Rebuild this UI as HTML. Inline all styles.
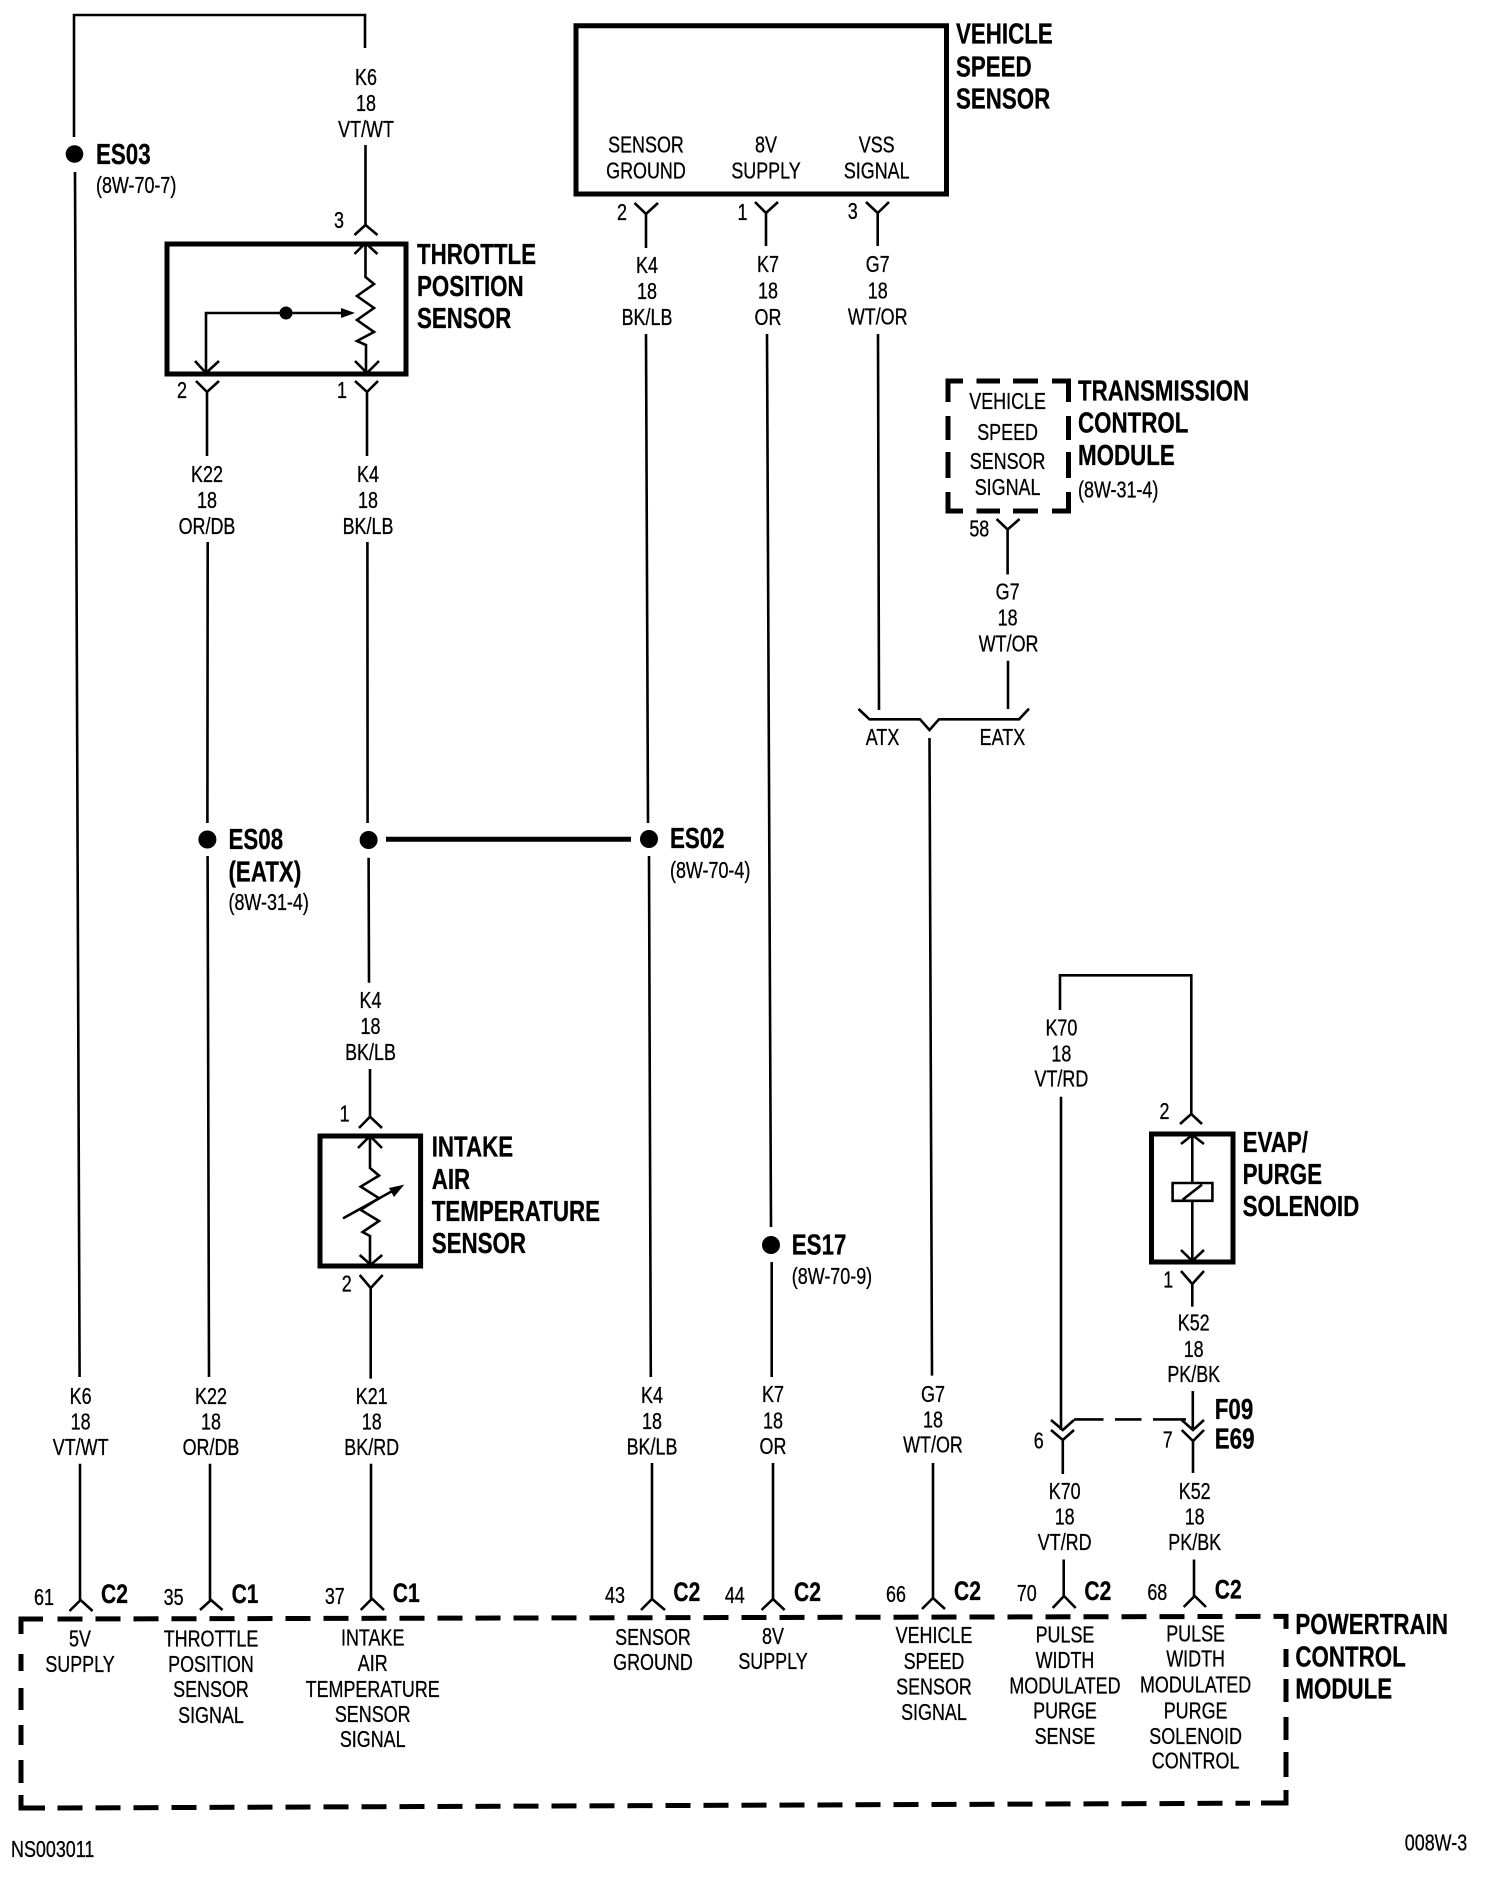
<!DOCTYPE html>
<html><head><meta charset="utf-8">
<style>
html,body{margin:0;padding:0;background:#fff}
svg{display:block}
text{font-family:"Liberation Sans",sans-serif;fill:#000;transform-box:fill-box}
.c{font-size:23px;text-anchor:middle;transform-origin:50% 50%;transform:scaleX(.78);stroke:#000;stroke-width:.3}
.l{font-size:23px;text-anchor:start;transform-origin:0 50%;transform:scaleX(.78);stroke:#000;stroke-width:.3}
.b{font-size:29px;font-weight:bold;text-anchor:start;transform-origin:0 50%;transform:scaleX(.77);stroke:#000;stroke-width:.3}
.p{font-size:27px;font-weight:bold;text-anchor:start;transform-origin:0 50%;transform:scaleX(.78);stroke:#000;stroke-width:.3}
.w path{fill:none;stroke:#000;stroke-width:2.6}
.k path{fill:none;stroke:#000;stroke-width:5}
</style></head><body>
<svg width="1504" height="1890" viewBox="0 0 1504 1890" xmlns="http://www.w3.org/2000/svg">
<rect width="1504" height="1890" fill="#fff"/>
<g class="k">
<path d="M167 244H406V374H167Z"/>
<path d="M576 25.7H946.5V194H576Z"/>
<path d="M320 1136H420.6V1266H320Z"/>
<path d="M1151.5 1134H1233V1262H1151.5Z"/>
<path d="M386 839.3H631"/>
<!-- TCM dashed -->
<path d="M963 381H948V402M976.5 381H1000M1013 381H1038M1052 381H1068.5V402M948 416V440M948 452V478M948 492V511H963M976.5 511H1000M1013 511H1038M1052 511H1068.5V492M1068.5 416V440M1068.5 452V478"/>
<!-- PCM dashed -->
<path d="M43 1619H21V1634M21 1654V1671M21 1688V1710M21 1725V1745M21 1760V1783M21 1795V1808H45"/>
<path d="M57.5 1619L1261 1616.4H1286V1629" stroke-dasharray="25 13"/>
<path d="M1286 1649V1667M1286 1679V1702M1286 1717V1740M1286 1752V1777M1286 1790V1803H1261"/>
<path d="M57.5 1808L1250 1803.2" stroke-dasharray="25 13"/>
</g>
<g class="w">
<!-- K6 top -->
<path d="M74 137V15H365V48M365.5 145V225"/>
<path d="M354.5 235L365.5 225L377.5 235"/>
<path d="M75 172L79.6 1377M80 1463.7V1600"/>
<path d="M69.5 1611L80.6 1600L92.6 1611"/>
<!-- TPS -->
<path d="M354.5 254L365.5 243L377.5 254M365.5 243V277L374 284L357 296L374 308L357 320L374 332L357 341L366 345V373"/>
<path d="M355 361L367 373L379 361"/>
<path d="M341 313H206V373"/>
<path d="M195 361L206 373L219 361"/>
<path d="M196 381L207 392L219 381M207 392V456M378 381L367 392L355 381M367 392V456"/>
<path d="M207.7 542L207.4 823M207.6 856L209 1377M210 1463.7V1600"/>
<path d="M200 1610L211 1600L222.5 1610"/>
<path d="M367.4 542L367.6 823M368.6 857.7L369 982.7M370 1069V1116.7"/>
<path d="M359 1128L370 1116.7L382 1128"/>
<!-- IAT -->
<path d="M358 1148L370 1136L382 1148M370 1136V1168L379 1175.6L360.7 1186.6L379 1198.2L360.7 1209.8L379 1221L362.6 1232L370 1236V1265"/>
<path d="M359.7 1255L370.7 1264.7L382.2 1255"/>
<path d="M343 1218.4L396 1189"/>
<path d="M359.7 1275L370.7 1288L382.7 1275M370.7 1288V1378.6M371 1463.7V1598.7"/>
<path d="M360.7 1610L372 1598.7L384 1610"/>
<!-- K4 ground -->
<path d="M634.5 203L646 214L658 203M646 214V248M646 334L648 823M649 856L650.8 1377M652 1463V1599"/>
<path d="M641 1610L652 1599L665 1610"/>
<!-- K7 -->
<path d="M755 202L766 213L778 202M766 213V246M767 334L771 1227M771.7 1262V1377M773 1463V1599"/>
<path d="M761.6 1610L773 1599L784.6 1610"/>
<!-- G7 -->
<path d="M866 202L877.7 213L889 202M877.7 213V246M878 334L879 710"/>
<path d="M996.6 519L1007.6 529.5L1019.6 519M1007.6 529.5V574.5M1008 660.7V709"/>
<path d="M858.5 709L869.5 719.3H920L929.5 730L939 719.3H1019L1029 708.7"/>
<path d="M929.5 738L932 1375.6M933 1463V1598"/>
<path d="M922 1609L933 1598L945 1609"/>
<!-- K70 -->
<path d="M1060 1010V975.3H1191.3V1114M1061 1096.7V1430"/>
<path d="M1180 1124L1191.3 1114L1202 1124"/>
<path d="M1051 1420L1062.8 1430L1074 1420M1051 1430L1062.8 1440L1074 1430M1062.8 1440V1474"/>
<path d="M1074 1419.4H1103.5M1115 1419.4H1141.5M1153 1419.4H1186"/>
<path d="M1063.7 1559.5V1596"/>
<path d="M1052.7 1608L1064 1596L1075.7 1608"/>
<!-- Evap -->
<path d="M1181 1144L1192.3 1135L1204 1144M1192.3 1135V1183M1192.3 1200.8V1261"/>
<path d="M1181 1250L1192.3 1261L1204 1250"/>
<path d="M1172.6 1183H1212.4V1200.8H1172.6ZM1182.7 1199.7L1202 1184.6"/>
<path d="M1181 1271L1192.3 1284L1204 1271M1192.3 1284V1306.6M1192.8 1391V1430"/>
<path d="M1181.7 1420L1193 1430L1204 1420M1181.7 1430L1193 1441L1204 1430M1193 1441V1473"/>
<path d="M1194 1559.5V1596"/>
<path d="M1183.7 1607L1194.7 1596L1206 1607"/>
</g>
<!-- dots and heads -->
<circle cx="74.5" cy="154" r="8.8"/>
<circle cx="286" cy="313" r="6.5"/>
<path d="M341 308L355 313L341 318Z"/>
<circle cx="207.4" cy="839.5" r="9"/>
<circle cx="368.6" cy="840" r="9"/>
<circle cx="649" cy="839" r="9"/>
<circle cx="771" cy="1245" r="9"/>
<path d="M404.3 1184.6L389 1188L394 1197Z"/>

<!-- titles -->
<text class="b" x="96" y="164">ES03</text>
<text class="l" x="96" y="193">(8W-70-7)</text>
<text class="b" x="417" y="264">THROTTLE</text>
<text class="b" x="417" y="296">POSITION</text>
<text class="b" x="417" y="328">SENSOR</text>
<text class="b" x="956" y="43.4">VEHICLE</text>
<text class="b" x="956" y="76.3">SPEED</text>
<text class="b" x="956" y="108.5">SENSOR</text>
<text class="b" x="1078" y="400.6">TRANSMISSION</text>
<text class="b" x="1078" y="432.7">CONTROL</text>
<text class="b" x="1078" y="465">MODULE</text>
<text class="l" x="1078" y="497.4">(8W-31-4)</text>
<text class="b" x="228.5" y="849">ES08</text>
<text class="b" x="228.5" y="881.6">(EATX)</text>
<text class="l" x="228.5" y="910">(8W-31-4)</text>
<text class="b" x="670" y="848">ES02</text>
<text class="l" x="670" y="878">(8W-70-4)</text>
<text class="b" x="791.8" y="1254.6">ES17</text>
<text class="l" x="791.8" y="1284">(8W-70-9)</text>
<text class="b" x="431.7" y="1156.4">INTAKE</text>
<text class="b" x="431.7" y="1189">AIR</text>
<text class="b" x="431.7" y="1221">TEMPERATURE</text>
<text class="b" x="431.7" y="1253">SENSOR</text>
<text class="b" x="1242.6" y="1152">EVAP/</text>
<text class="b" x="1242.6" y="1184">PURGE</text>
<text class="b" x="1242.6" y="1216">SOLENOID</text>
<text class="b" x="1214.8" y="1419">F09</text>
<text class="b" x="1214.8" y="1448.6">E69</text>
<text class="b" x="1295.4" y="1634">POWERTRAIN</text>
<text class="b" x="1295.4" y="1666.7">CONTROL</text>
<text class="b" x="1295.4" y="1698.5">MODULE</text>

<!-- C labels -->
<text class="p" x="101" y="1603">C2</text>
<text class="p" x="231.6" y="1603">C1</text>
<text class="p" x="392.8" y="1602">C1</text>
<text class="p" x="673.4" y="1601">C2</text>
<text class="p" x="794" y="1601">C2</text>
<text class="p" x="954" y="1600">C2</text>
<text class="p" x="1084.4" y="1600">C2</text>
<text class="p" x="1214.8" y="1598.7">C2</text>

<!-- wire labels -->
<text class="c" x="366" y="85">K6</text><text class="c" x="366" y="111">18</text><text class="c" x="366" y="137">VT/WT</text>
<text class="c" x="207" y="482">K22</text><text class="c" x="207" y="508">18</text><text class="c" x="207" y="534">OR/DB</text>
<text class="c" x="368" y="482">K4</text><text class="c" x="368" y="508">18</text><text class="c" x="368" y="534">BK/LB</text>
<text class="c" x="647" y="273">K4</text><text class="c" x="647" y="299">18</text><text class="c" x="647" y="325">BK/LB</text>
<text class="c" x="768" y="272">K7</text><text class="c" x="768" y="298.5">18</text><text class="c" x="768" y="325">OR</text>
<text class="c" x="877.7" y="272">G7</text><text class="c" x="877.7" y="298.5">18</text><text class="c" x="877.7" y="324.6">WT/OR</text>
<text class="c" x="1007.6" y="599.4">G7</text><text class="c" x="1007.6" y="625.6">18</text><text class="c" x="1008.6" y="651.7">WT/OR</text>
<text class="c" x="882.5" y="745">ATX</text><text class="c" x="1002.4" y="745">EATX</text>
<text class="c" x="370.5" y="1008">K4</text><text class="c" x="370.5" y="1034">18</text><text class="c" x="370.5" y="1060">BK/LB</text>
<text class="c" x="1061.4" y="1035.7">K70</text><text class="c" x="1061.4" y="1061.7">18</text><text class="c" x="1061.4" y="1086.7">VT/RD</text>
<text class="c" x="1193.7" y="1330.7">K52</text><text class="c" x="1193.7" y="1357">18</text><text class="c" x="1193.7" y="1382">PK/BK</text>
<text class="c" x="80.6" y="1403.8">K6</text><text class="c" x="80.6" y="1429.5">18</text><text class="c" x="80.6" y="1455">VT/WT</text>
<text class="c" x="211" y="1403.8">K22</text><text class="c" x="211" y="1429.5">18</text><text class="c" x="211" y="1455">OR/DB</text>
<text class="c" x="371.7" y="1403.8">K21</text><text class="c" x="371.7" y="1429.5">18</text><text class="c" x="371.7" y="1455">BK/RD</text>
<text class="c" x="652" y="1403">K4</text><text class="c" x="652" y="1429">18</text><text class="c" x="652" y="1454.6">BK/LB</text>
<text class="c" x="773" y="1402">K7</text><text class="c" x="773" y="1428.5">18</text><text class="c" x="773" y="1454">OR</text>
<text class="c" x="933" y="1402">G7</text><text class="c" x="933" y="1427.5">18</text><text class="c" x="933" y="1452.6">WT/OR</text>
<text class="c" x="1064.7" y="1499">K70</text><text class="c" x="1064.7" y="1524.7">18</text><text class="c" x="1064.7" y="1550">VT/RD</text>
<text class="c" x="1194.7" y="1499">K52</text><text class="c" x="1194.7" y="1524.7">18</text><text class="c" x="1194.7" y="1550">PK/BK</text>

<!-- pins -->
<text class="c" x="339" y="228">3</text>
<text class="c" x="182" y="398">2</text>
<text class="c" x="342" y="398">1</text>
<text class="c" x="622" y="220">2</text>
<text class="c" x="742.5" y="220">1</text>
<text class="c" x="852.7" y="219">3</text>
<text class="c" x="979.3" y="536.4">58</text>
<text class="c" x="344.6" y="1121.7">1</text>
<text class="c" x="346.8" y="1291.4">2</text>
<text class="c" x="1164.5" y="1119">2</text>
<text class="c" x="1168.3" y="1287.4">1</text>
<text class="c" x="1038.8" y="1448.6">6</text>
<text class="c" x="1167.8" y="1447.6">7</text>
<text class="c" x="44" y="1605">61</text>
<text class="c" x="173.6" y="1605">35</text>
<text class="c" x="334.8" y="1604">37</text>
<text class="c" x="615" y="1603">43</text>
<text class="c" x="734.8" y="1603">44</text>
<text class="c" x="896" y="1602">66</text>
<text class="c" x="1026.8" y="1601">70</text>
<text class="c" x="1157.3" y="1600">68</text>

<!-- box text -->
<text class="c" x="646" y="152.7">SENSOR</text><text class="c" x="646" y="178.4">GROUND</text>
<text class="c" x="766" y="152.7">8V</text><text class="c" x="766" y="178.4">SUPPLY</text>
<text class="c" x="876.7" y="152.7">VSS</text><text class="c" x="876.7" y="178.4">SIGNAL</text>
<text class="c" x="1007.6" y="409">VEHICLE</text><text class="c" x="1007.6" y="440">SPEED</text><text class="c" x="1007.6" y="469">SENSOR</text><text class="c" x="1007.6" y="495">SIGNAL</text>
<text class="c" x="80" y="1646.6">5V</text><text class="c" x="80" y="1672">SUPPLY</text>
<text class="c" x="211" y="1646.6">THROTTLE</text><text class="c" x="211" y="1672">POSITION</text><text class="c" x="211" y="1697">SENSOR</text><text class="c" x="211" y="1723">SIGNAL</text>
<text class="c" x="372.7" y="1645.6">INTAKE</text><text class="c" x="372.7" y="1671">AIR</text><text class="c" x="372.7" y="1697">TEMPERATURE</text><text class="c" x="372.7" y="1722">SENSOR</text><text class="c" x="372.7" y="1747">SIGNAL</text>
<text class="c" x="653" y="1645">SENSOR</text><text class="c" x="653" y="1670">GROUND</text>
<text class="c" x="773" y="1644">8V</text><text class="c" x="773" y="1669">SUPPLY</text>
<text class="c" x="934" y="1643">VEHICLE</text><text class="c" x="934" y="1669">SPEED</text><text class="c" x="934" y="1694.5">SENSOR</text><text class="c" x="934" y="1720">SIGNAL</text>
<text class="c" x="1065" y="1642.6">PULSE</text><text class="c" x="1065" y="1668">WIDTH</text><text class="c" x="1065" y="1693.4">MODULATED</text><text class="c" x="1065" y="1718.6">PURGE</text><text class="c" x="1065" y="1744">SENSE</text>
<text class="c" x="1195.6" y="1641.6">PULSE</text><text class="c" x="1195.6" y="1666.7">WIDTH</text><text class="c" x="1195.6" y="1692.4">MODULATED</text><text class="c" x="1195.6" y="1718.6">PURGE</text><text class="c" x="1195.6" y="1744">SOLENOID</text><text class="c" x="1195.6" y="1768.5">CONTROL</text>
<text class="l" x="11" y="1857">NS003011</text>
<text class="c" x="1436" y="1850.6">008W-3</text>
</svg>
</body></html>
